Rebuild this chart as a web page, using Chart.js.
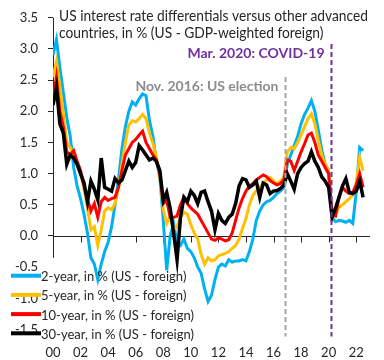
<!DOCTYPE html>
<html>
<head>
<meta charset="utf-8">
<script src="https://cdn.jsdelivr.net/npm/chart.js@4.4.0/dist/chart.umd.min.js"></script>
<style>
  html, body { margin: 0; padding: 0; background: #fff; }
  #wrap { width: 384px; height: 360px; }
</style>
</head>
<body>
<div id="wrap"><canvas id="chart" width="384" height="360"></canvas></div>
<script>
// quarterly observations, 2000Q1 .. 2022Q3 as decimal years
const quarters = [];
for (let i = 0; i <= 90; i++) quarters.push(2000 + i * 0.25);

// x axis labels, every second year
const yearTicks = [2000, 2002, 2004, 2006, 2008, 2010, 2012, 2014, 2016, 2018, 2020, 2022];

// US minus GDP-weighted foreign yields, in %
const twoYear = [
  2.9, 3.15, 2.7, 2.3,   1.9, 1.6, 1.1, 0.8,   0.6, 0.35, 0.05, -0.35,   -0.45, -0.7, -0.45, -0.25,
  -0.1, 0.15, 0.5, 0.9,   1.4, 1.75, 2.0, 2.15,   2.1, 2.2, 2.28, 2.25,   1.85, 1.6, 1.2, 0.95,
  0.25, -0.55, 0.0, 0.2,   -0.1, -0.15, -0.05, -0.2,   -0.25, -0.35, -0.5, -0.6,   -0.85, -1.05, -0.95, -0.7,
  -0.5, -0.45, -0.48, -0.38,   -0.42, -0.4, -0.4, -0.38,   -0.4, -0.25, -0.05, 0.25,   0.4, 0.5, 0.55, 0.57,
  0.62, 0.68, 0.72, 0.78,   1.15, 1.3, 1.45, 1.6,   1.8, 1.95, 2.05, 2.17,   2.0, 1.7, 1.38, 1.15,
  1.05, 0.3, 0.23, 0.25,   0.24, 0.22, 0.25, 0.2,   0.7, 1.42, 1.37
];
const fiveYear = [
  2.55, 2.8, 2.4, 1.95,   1.5, 1.42, 1.3, 1.15,   1.0, 0.75, 0.45, 0.1,   0.15, -0.15, 0.1, 0.4,
  0.45, 0.42, 0.52, 0.78,   1.15, 1.5, 1.78, 1.85,   1.83, 1.88, 1.95, 1.88,   1.65, 1.48, 1.27, 0.95,
  0.42, 0.2, 0.3, 0.1,   0.15, 0.3, 0.38, 0.35,   0.18, 0.05, -0.05, -0.3,   -0.45, -0.35, -0.4, -0.38,
  -0.32, -0.3, -0.28, -0.25,   -0.2, -0.15, -0.05, 0.12,   0.28, 0.5, 0.65, 0.73,   0.78, 0.84, 0.9, 0.94,
  0.88, 0.84, 0.88, 0.95,   1.35, 1.42, 1.4, 1.5,   1.62, 1.75, 1.88, 1.96,   1.8, 1.53, 1.3, 1.15,
  1.05, 0.28, 0.35, 0.46,   0.5, 0.55, 0.6, 0.65,   0.85, 1.26, 1.05
];
const tenYear = [
  2.2, 2.55, 2.0, 1.75,   1.35, 1.3, 1.37, 1.2,   1.05, 0.8, 0.6, 0.4,   0.52, 0.3, 0.55, 0.62,
  0.57, 0.6, 0.62, 0.78,   1.05, 1.3, 1.4, 1.5,   1.55, 1.62, 1.68, 1.5,   1.4, 1.3, 1.22, 1.0,
  0.52, 0.57, 0.3, 0.3,   0.32, 0.5, 0.62, 0.52,   0.45, 0.4, 0.35, 0.25,   0.15, 0.05, -0.05, -0.07,
  -0.03, -0.05, -0.08, -0.06,   0.05, 0.25, 0.45, 0.6,   0.72, 0.8, 0.84, 0.9,   0.94, 0.98, 0.95, 0.89,
  0.85, 0.82, 0.84, 0.9,   1.22, 1.2, 1.05, 1.2,   1.35, 1.48, 1.62, 1.65,   1.5, 1.3, 1.2, 1.1,
  1.0, 0.35, 0.32, 0.62,   0.78, 0.72, 0.68, 0.7,   0.82, 1.0, 0.78
];
const thirtyYear = [
  2.1, 2.38, 1.8, 1.65,   1.15, 1.3, 1.25, 1.15,   1.0, 0.85, 0.55, 0.88,   0.75, 0.58, 1.25, 0.78,
  0.75, 0.72, 0.92, 0.85,   0.9, 1.05, 1.2, 1.1,   1.18, 1.45, 1.38, 1.3,   1.22, 1.25, 1.2, 1.05,
  0.57, 0.7, 0.45, 0.05,   -0.38, 0.3, 0.62, 0.55,   0.72, 0.65, 0.52, 0.7,   0.72, 0.55, 0.4, 0.1,
  0.36, 0.25, 0.2, 0.3,   0.35, 0.52, 0.8, 0.92,   0.9, 0.78, 0.82, 0.88,   0.62, 0.85, 0.82, 0.68,
  0.72, 0.73, 0.76, 0.82,   1.0, 0.88, 0.75, 1.0,   1.1, 1.16, 1.2, 1.35,   1.2, 1.1, 0.95, 0.88,
  0.78, 0.3, 0.45, 0.62,   0.8, 0.92, 0.7, 0.68,   0.72, 0.88, 0.62
];

const seriesNames = [
  '2-year, in % (US - foreign)',
  '5-year, in % (US - foreign)',
  '10-year, in % (US - foreign)',
  '30-year, in % (US - foreign)'
];
const titleLines = [
  'US interest rate differentials versus other advanced',
  'countries, in % (US - GDP-weighted foreign)'
];
const eventYears = [2016.83, 2020.17];
const eventLabels = ['Nov. 2016: US election', 'Mar. 2020: COVID-19'];

const FONT = 'Lato, "Open Sans", sans-serif';

const eventStyles = [
  { line: '#A6A6A6', text: '#8C8C8C', top: 2.55 },
  { line: '#7030A0', text: '#7030A0', top: 3.08 }
];

const decorations = {
  id: 'decorations',
  beforeDatasetsDraw(chart) {
    const { ctx, chartArea: area, scales: { x, y } } = chart;
    ctx.save();
    ctx.strokeStyle = '#262626';
    ctx.lineWidth = 1;
    // y axis line, hidden where the legend sits
    ctx.beginPath();
    ctx.moveTo(area.left + 0.5, area.top);
    ctx.lineTo(area.left + 0.5, y.getPixelForValue(-0.35));
    // zero line with the year ticks hanging from it
    const y0 = Math.round(y.getPixelForValue(0)) + 0.5;
    ctx.moveTo(area.left, y0);
    ctx.lineTo(area.right, y0);
    yearTicks.forEach(v => {
      const px = Math.round(x.getPixelForValue(v)) + 0.5;
      ctx.moveTo(px, y0);
      ctx.lineTo(px, y0 + 6);
    });
    ctx.stroke();
    ctx.restore();
  },
  afterDatasetsDraw(chart) {
    const { ctx, chartArea: area, scales: { x, y } } = chart;
    ctx.save();

    // event lines and their labels
    eventYears.forEach((yr, i) => {
      const st = eventStyles[i];
      const px = Math.round(x.getPixelForValue(yr)) + 0.5;
      const top = y.getPixelForValue(st.top);
      ctx.strokeStyle = st.line;
      ctx.lineWidth = 2;
      ctx.setLineDash([5, 3]);
      ctx.beginPath();
      ctx.moveTo(px, top);
      ctx.lineTo(px, area.bottom + 7);
      ctx.stroke();
      ctx.setLineDash([]);
      ctx.font = 'bold 14px ' + FONT;
      ctx.fillStyle = st.text;
      ctx.textAlign = 'right';
      ctx.textBaseline = 'alphabetic';
      ctx.fillText(eventLabels[i], px - 7, top + 14);
    });

    // title in the top-left of the plot
    ctx.font = '15px ' + FONT;
    ctx.fillStyle = '#262626';
    ctx.textAlign = 'left';
    const w0 = ctx.measureText(titleLines[0]).width;
    const squeeze = Math.min(1, 309 / w0);
    titleLines.forEach((line, i) => {
      const w = ctx.measureText(line).width * squeeze;
      ctx.fillText(line, 59, 20.5 + i * 17, w);
    });

    // legend over the bottom-left corner
    ctx.font = '14px ' + FONT;
    chart.data.datasets.forEach((ds, i) => {
      const ly = 275.7 + i * 19.2;
      ctx.strokeStyle = ds.borderColor;
      ctx.lineWidth = 4;
      ctx.beginPath();
      ctx.moveTo(11, ly);
      ctx.lineTo(41, ly);
      ctx.stroke();
      ctx.fillStyle = '#262626';
      ctx.textBaseline = 'middle';
      const w = ctx.measureText(ds.label).width;
      ctx.fillText(ds.label, 41, ly + 1, w * 0.93);
    });
    ctx.restore();
  }
};

const colors = ['#00B0F0', '#FFC000', '#FF0000', '#000000'];
const values = [twoYear, fiveYear, tenYear, thirtyYear];

Chart.defaults.font.family = FONT;
Chart.defaults.font.size = 13;
Chart.defaults.color = '#262626';

new Chart(document.getElementById('chart'), {
  type: 'line',
  data: {
    labels: quarters,
    datasets: values.map((v, i) => ({
      label: seriesNames[i],
      data: v,
      borderColor: colors[i],
      backgroundColor: colors[i],
      borderWidth: i === 3 ? 3.5 : 3,
      pointRadius: 0,
      tension: 0,
      order: 4 - i
    }))
  },
  options: {
    responsive: false,
    animation: false,
    layout: { padding: { left: 0, top: 16.5, right: 14, bottom: 0 } },
    plugins: { legend: { display: false }, tooltip: { enabled: false } },
    scales: {
      x: {
        type: 'linear',
        min: 2000,
        max: 2023,
        grid: { display: false },
        border: { display: false },
        afterBuildTicks: s => { s.ticks = yearTicks.map(v => ({ value: v })); },
        afterFit: s => { s.height = 30.5; },
        ticks: {
          autoSkip: false,
          maxRotation: 0,
          padding: 8,
          callback: v => String(Math.round(v) % 100).padStart(2, '0')
        }
      },
      y: {
        min: -1.5,
        max: 3.5,
        border: { display: false },
        grid: {
          drawOnChartArea: false,
          tickLength: 5,
          tickColor: c => (c.tick && c.tick.value < 0) ? 'rgba(0,0,0,0)' : '#262626'
        },
        afterFit: s => { s.width = 53; },
        ticks: {
          stepSize: 0.5,
          padding: 10,
          callback: v => v.toFixed(1)
        }
      }
    }
  },
  plugins: [decorations]
});
</script>
</body>
</html>
